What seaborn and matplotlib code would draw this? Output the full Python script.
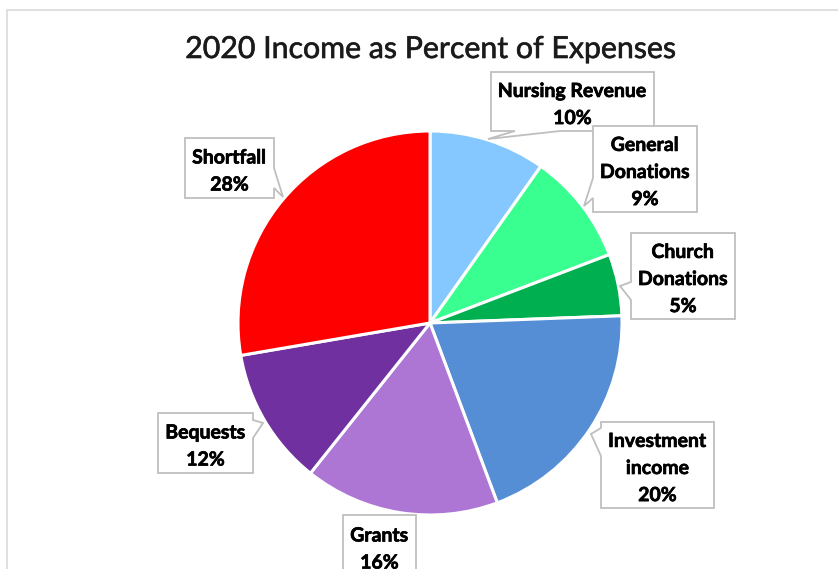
import matplotlib
matplotlib.use("Agg")
import matplotlib.pyplot as plt
import matplotlib.patheffects as pe
import seaborn as sns
from matplotlib.patches import Polygon

# slice data, clockwise from 12 o'clock
categories = ["Nursing Revenue", "General\nDonations", "Church\nDonations",
              "Investment\nincome", "Grants", "Bequests", "Shortfall"]
shares = [9.8, 9.4, 5.2, 19.9, 16.4, 11.6, 27.7]
colors = ["#85C8FF", "#38FF8F", "#00B050", "#558ED5", "#AD76D5", "#7030A0", "#FF0000"]

W, H = 838, 569

sns.set_theme(style="white")
plt.rcParams["font.family"] = ["Lato", "DejaVu Sans"]

fig = plt.figure(figsize=(W / 100, H / 100), dpi=100)
ax = fig.add_axes([0, 0, 1, 1])

ax.pie(shares, colors=sns.color_palette(colors), startangle=90, counterclock=False,
       center=(430, H - 323), radius=192,
       wedgeprops=dict(edgecolor="white", linewidth=2.2))
ax.set_xlim(0, W)
ax.set_ylim(0, H)
ax.set_aspect("equal")
ax.set_axis_off()

# outer chart frame (runs off the right / bottom edge)
ax.plot([7, 7, W + 5], [-5, H - 10, H - 10], color="#D9D9D9", lw=1.2,
        clip_on=False, solid_joinstyle="miter")

ax.text(430, H - 49, "2020 Income as Percent of Expenses", ha="center", va="center",
        fontsize=21.8, color="#1A1A1A",
        path_effects=[pe.withStroke(linewidth=0.5, foreground="#333333")])

# callout boxes: (x0, y0, x1, y1) in image pixels, pointer side, base span, tip
boxes = [
    ((491, 72, 654, 131), "bottom", (515, 560), (488, 139)),
    ((593, 126, 697, 212), "left", (178, 198), (584, 206)),
    ((631, 233, 735, 319), "left", (282, 300), (620, 286)),
    ((601, 422, 714, 508), "left", (428, 456), (591, 434)),
    ((343, 515, 416, 590), None, None, None),
    ((158, 413, 253, 473), "right", (420, 438), (263, 423)),
    ((185, 138, 274, 198), "right", (168, 188), (283, 197)),
]


def callout(rect, side, span, tip):
    x0, y0, x1, y1 = rect
    pts = [(x0, y0), (x1, y0)]
    if side == "right":
        pts += [(x1, span[0]), tip, (x1, span[1])]
    pts += [(x1, y1)]
    if side == "bottom":
        pts += [(span[1], y1), tip, (span[0], y1)]
    pts += [(x0, y1)]
    if side == "left":
        pts += [(x0, span[1]), tip, (x0, span[0])]
    return [(x, H - y) for x, y in pts]


for name, val, (rect, side, span, tip) in zip(categories, shares, boxes):
    ax.add_patch(Polygon(callout(rect, side, span, tip), closed=True, facecolor="white",
                         edgecolor="#BFBFBF", lw=1.3, clip_on=False, zorder=3))
    x0, y0, x1, y1 = rect
    cy = (y0 + min(y1, 577)) / 2 + 3.5
    ax.text((x0 + x1) / 2, H - cy, f"{name}\n{round(val)}%", ha="center", va="center",
            fontsize=14, fontweight="bold", color="black", linespacing=1.72, zorder=4,
            path_effects=[pe.withStroke(linewidth=0.5, foreground="black")])

fig.savefig("out.png", dpi=100, facecolor="white")
